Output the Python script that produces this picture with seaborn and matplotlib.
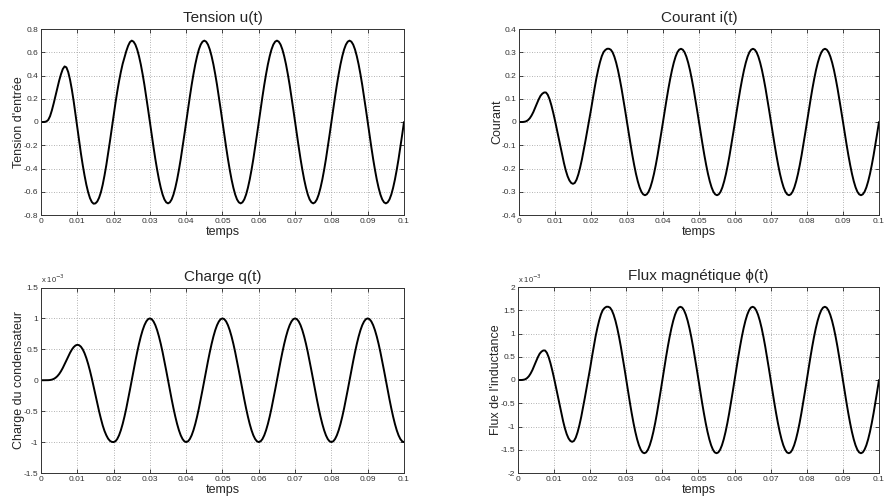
import numpy as np
import matplotlib
matplotlib.use("Agg")
import matplotlib.pyplot as plt
import seaborn as sns

# ---------------- data ----------------
# sampling instants: 0 .. 0.1 s, every 0.5 ms (201 points)
temps = np.linspace(0.0, 0.1, 201)

# Tension u(t): transient (0 - 29.5 ms), then repeated half-periods
u_debut = [0.0, 0.0, 0.001, 0.005, 0.018, 0.05, 0.10, 0.16, 0.225, 0.29,
           0.355, 0.41, 0.455, 0.478, 0.47, 0.43, 0.365, 0.28, 0.18, 0.07,
           -0.045, -0.16, -0.27, -0.37, -0.46, -0.54, -0.605, -0.655, -0.688, -0.703,
           -0.70, -0.684, -0.652, -0.605, -0.54, -0.46, -0.37, -0.27, -0.165, -0.055,
           0.055, 0.16, 0.26, 0.35, 0.43, 0.50, 0.555, 0.61, 0.655, 0.687,
           0.70, 0.691, 0.666, 0.624, 0.566, 0.495, 0.411, 0.318, 0.216, 0.109]
u_pos = [0.0, 0.109, 0.216, 0.318, 0.411, 0.495, 0.566, 0.624, 0.666, 0.691,
         0.700, 0.691, 0.666, 0.624, 0.566, 0.495, 0.411, 0.318, 0.216, 0.109]
u_neg = [0.0, -0.109, -0.216, -0.318, -0.411, -0.495, -0.566, -0.624, -0.666, -0.691,
         -0.700, -0.691, -0.666, -0.624, -0.566, -0.495, -0.411, -0.318, -0.216, -0.109]

# Courant i(t)
i_debut = [0.0, 0.0, 0.0, 0.001, 0.003, 0.008, 0.016, 0.028, 0.043, 0.062,
           0.080, 0.098, 0.113, 0.122, 0.127, 0.127, 0.117, 0.098, 0.072, 0.041,
           0.007, -0.030, -0.067, -0.105, -0.142, -0.177, -0.208, -0.233, -0.251, -0.262,
           -0.266, -0.262, -0.248, -0.225, -0.195, -0.160, -0.120, -0.078, -0.035, 0.008,
           0.052, 0.100, 0.145, 0.188, 0.225, 0.257, 0.283, 0.301, 0.310, 0.315,
           0.315, 0.311, 0.300, 0.281, 0.255, 0.223, 0.185, 0.143, 0.097, 0.049]
i_pos = [0.0, 0.049, 0.097, 0.143, 0.185, 0.223, 0.255, 0.281, 0.300, 0.311,
         0.315, 0.311, 0.300, 0.281, 0.255, 0.223, 0.185, 0.143, 0.097, 0.049]
i_neg = [0.0, -0.049, -0.097, -0.143, -0.185, -0.223, -0.255, -0.281, -0.300, -0.311,
         -0.315, -0.311, -0.300, -0.281, -0.255, -0.223, -0.185, -0.143, -0.097, -0.049]

# Charge q(t) in units of 1e-3
q_debut = [0.0, 0.0, 0.0, 0.0003, 0.0013, 0.004, 0.01, 0.021, 0.039, 0.065,
           0.10, 0.145, 0.198, 0.257, 0.32, 0.383, 0.443, 0.495, 0.535, 0.562,
           0.573, 0.567, 0.543, 0.50, 0.438, 0.358, 0.262, 0.152, 0.03, -0.10,
           -0.235, -0.37, -0.50, -0.62, -0.73, -0.82, -0.89, -0.945, -0.98, -0.997]
q_up = [-1.0, -0.988, -0.951, -0.891, -0.809, -0.707, -0.588, -0.454, -0.309, -0.156,
        0.0, 0.156, 0.309, 0.454, 0.588, 0.707, 0.809, 0.891, 0.951, 0.988]
q_down = [1.0, 0.988, 0.951, 0.891, 0.809, 0.707, 0.588, 0.454, 0.309, 0.156,
          0.0, -0.156, -0.309, -0.454, -0.588, -0.707, -0.809, -0.891, -0.951, -0.988]

# Flux phi(t) in units of 1e-3
phi_debut = [0.0, 0.0, 0.0, 0.005, 0.015, 0.04, 0.08, 0.14, 0.215, 0.31,
             0.40, 0.49, 0.565, 0.61, 0.635, 0.635, 0.585, 0.49, 0.36, 0.205,
             0.035, -0.15, -0.335, -0.525, -0.71, -0.885, -1.04, -1.165, -1.255, -1.31,
             -1.33, -1.31, -1.24, -1.125, -0.975, -0.80, -0.60, -0.39, -0.175, 0.04,
             0.26, 0.50, 0.725, 0.94, 1.125, 1.285, 1.415, 1.505, 1.55, 1.575,
             1.575, 1.556, 1.498, 1.403, 1.274, 1.114, 0.926, 0.715, 0.487, 0.246]
phi_pos = [0.0, 0.246, 0.487, 0.715, 0.926, 1.114, 1.274, 1.403, 1.498, 1.556,
           1.575, 1.556, 1.498, 1.403, 1.274, 1.114, 0.926, 0.715, 0.487, 0.246]
phi_neg = [0.0, -0.246, -0.487, -0.715, -0.926, -1.114, -1.274, -1.403, -1.498, -1.556,
           -1.575, -1.556, -1.498, -1.403, -1.274, -1.114, -0.926, -0.715, -0.487, -0.246]

u_vals = u_debut + u_neg + u_pos + u_neg + u_pos + u_neg + u_pos + u_neg + [0.0]
i_vals = i_debut + i_neg + i_pos + i_neg + i_pos + i_neg + i_pos + i_neg + [0.0]
q_vals = q_debut + q_up + q_down + q_up + q_down + q_up + q_down + q_up + q_down + [-1.0]
phi_vals = phi_debut + phi_neg + phi_pos + phi_neg + phi_pos + phi_neg + phi_pos + phi_neg + [0.0]

x_ticks = [0, 0.01, 0.02, 0.03, 0.04, 0.05, 0.06, 0.07, 0.08, 0.09, 0.1]
x_labels = ["0", "0.01", "0.02", "0.03", "0.04", "0.05", "0.06", "0.07", "0.08", "0.09", "0.1"]

u_ticks = [-0.8, -0.6, -0.4, -0.2, 0, 0.2, 0.4, 0.6, 0.8]
u_labels = ["-0.8", "-0.6", "-0.4", "-0.2", "0", "0.2", "0.4", "0.6", "0.8"]
i_ticks = [-0.4, -0.3, -0.2, -0.1, 0, 0.1, 0.2, 0.3, 0.4]
i_labels = ["-0.4", "-0.3", "-0.2", "-0.1", "0", "0.1", "0.2", "0.3", "0.4"]
q_ticks = [-1.5, -1, -0.5, 0, 0.5, 1, 1.5]
q_labels = ["-1.5", "-1", "-0.5", "0", "0.5", "1", "1.5"]
phi_ticks = [-2, -1.5, -1, -0.5, 0, 0.5, 1, 1.5, 2]
phi_labels = ["-2", "-1.5", "-1", "-0.5", "0", "0.5", "1", "1.5", "2"]

titles = ["Tension u(t)", "Courant i(t)", "Charge q(t)", "Flux magnétique ϕ(t)"]
ylabels = ["Tension d'entrée", "Courant", "Charge du condensateur", "Flux de l'inductance"]

# ---------------- figure ----------------
sns.set_theme(style="white")
plt.rcParams['font.family'] = ['Liberation Sans', 'DejaVu Sans']

fig = plt.figure(figsize=(8.85, 5.0), dpi=100)
fig.patch.set_facecolor("white")

positions = [
    [0.0463, 0.570, 0.4102, 0.372],
    [0.5864, 0.570, 0.4068, 0.372],
    [0.0463, 0.054, 0.4102, 0.371],
    [0.5853, 0.054, 0.4079, 0.372],
]
series = [u_vals, i_vals, q_vals, phi_vals]
yticks = [u_ticks, i_ticks, q_ticks, phi_ticks]
ylabs = [u_labels, i_labels, q_labels, phi_labels]
offsets = [None, None, "x 10$^{-3}$", "x 10$^{-3}$"]

for k in range(4):
    ax = fig.add_axes(positions[k])
    sns.lineplot(x=temps, y=series[k], ax=ax, color="black", linewidth=1.4,
                 errorbar=None, sort=False)
    ax.set_xlim(0, 0.1)
    ax.set_ylim(yticks[k][0], yticks[k][-1])
    ax.set_xticks(x_ticks)
    ax.set_xticklabels(x_labels)
    ax.set_yticks(yticks[k])
    ax.set_yticklabels(ylabs[k])
    ax.set_axisbelow(True)
    ax.grid(True, linestyle=(0, (1, 2)), color="#9a9a9a", linewidth=0.6)
    ax.tick_params(direction="in", length=3, width=0.5, labelsize=6,
                   top=True, right=True, bottom=True, left=True,
                   labelcolor="#333333", color="black", pad=2)
    for s in ax.spines.values():
        s.set_visible(True)
        s.set_color("#333333")
        s.set_linewidth(0.7)
    ax.set_facecolor("white")
    ax.set_title(titles[k], fontsize=11, pad=5)
    ax.set_xlabel("temps", fontsize=9, labelpad=1)
    ax.set_ylabel(ylabels[k], fontsize=9, labelpad=-1)
    if offsets[k]:
        ax.text(0.0, 1.012, offsets[k], transform=ax.transAxes, fontsize=5.5,
                ha="left", va="bottom", color="#333333")

fig.savefig("out.png", dpi=100, facecolor="white")
